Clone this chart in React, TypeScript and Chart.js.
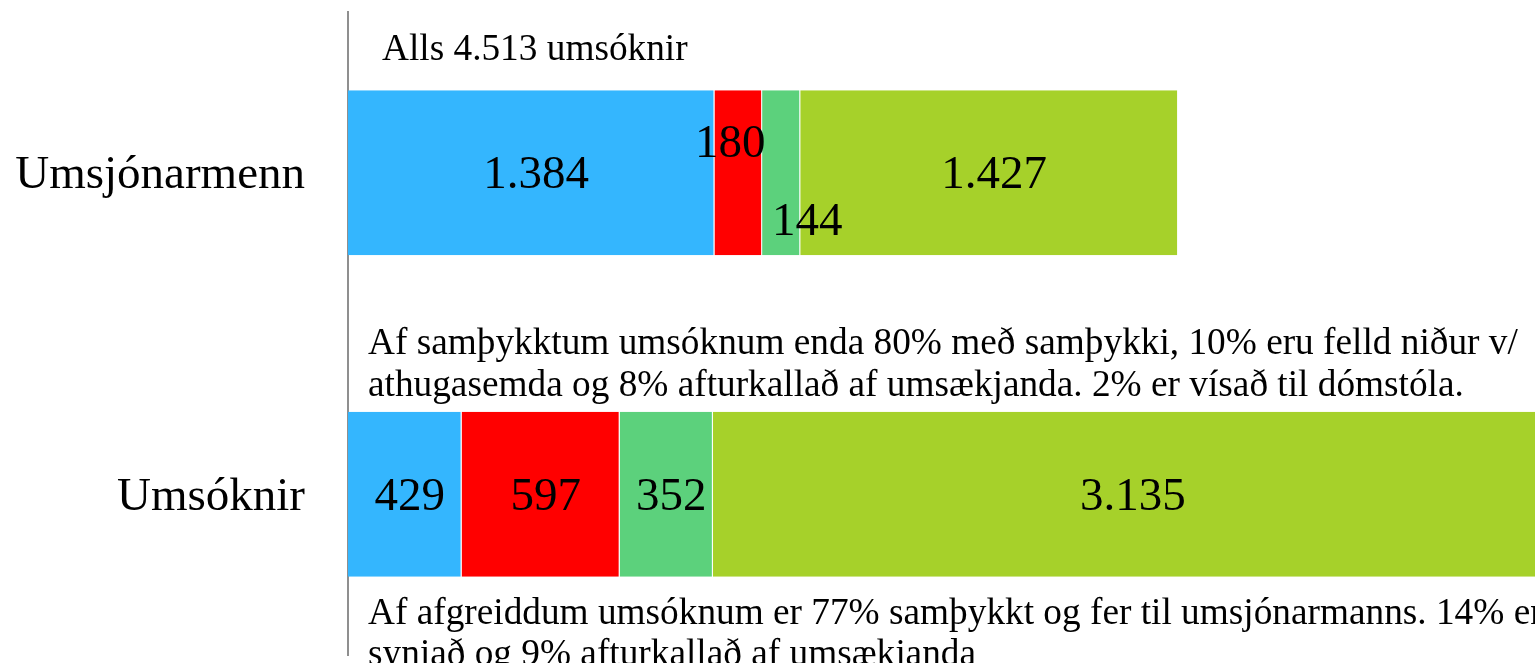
import React, { useEffect, useRef } from 'react';
import { Chart, registerables } from 'chart.js';

Chart.register(...registerables);

const categories = ['Umsjónarmenn', 'Umsóknir'];
const seriesBlue = [1384, 429];
const seriesRed = [180, 597];
const seriesGreen = [144, 352];
const seriesLime = [1427, 3135];
const seriesColors = ['#34B6FE', '#FF0000', '#5CD17C', '#A6D12A'];

const noteTop = ['Alls {total} umsóknir'];
const noteMiddle = [
  'Af samþykktum umsóknum enda 80% með samþykki, 10% eru felld niður v/',
  'athugasemda og 8% afturkallað af umsækjanda. 2% er vísað til dómstóla.',
];
const noteBottom = [
  'Af afgreiddum umsóknum er 77% samþykkt og fer til umsjónarmanns. 14% er',
  'synjað og 9% afturkallað af umsækjanda',
];

const AXIS_MAX = 4483;
const FONT = '"Liberation Serif", "Times New Roman", serif';

const fmt = (v: number) => v.toString().replace(/\B(?=(\d{3})+(?!\d))/g, '.');

// manual label nudges (dataset index - category index -> [dx, dy])
const labelNudge: Record<string, [number, number]> = {
  '1-0': [-13, -31],
  '2-0': [21, 47],
};

const labelsPlugin = {
  id: 'customLabels',
  afterDatasetsDraw(chart: any) {
    const ctx = chart.ctx;
    const area = chart.chartArea;
    const yScale = chart.scales.y;
    ctx.save();
    ctx.fillStyle = '#000';

    // category labels
    ctx.textAlign = 'right';
    ctx.textBaseline = 'middle';
    ctx.font = `47px ${FONT}`;
    categories.forEach((c, i) => {
      ctx.fillText(c, area.left - 43, yScale.getPixelForValue(i) + 3);
    });

    // value labels
    ctx.textAlign = 'center';
    chart.data.datasets.forEach((ds: any, di: number) => {
      const meta = chart.getDatasetMeta(di);
      meta.data.forEach((el: any, i: number) => {
        const c = el.getCenterPoint();
        const n = labelNudge[`${di}-${i}`] || [0, 0];
        ctx.fillText(fmt(ds.data[i]), c.x + 5 + n[0], c.y + 3 + n[1]);
      });
    });

    const m0 = chart.getDatasetMeta(0);
    const top0 = m0.data[0].y - m0.data[0].height / 2;
    const top1 = m0.data[1].y - m0.data[1].height / 2;
    const bot1 = m0.data[1].y + m0.data[1].height / 2;
    const total = seriesBlue[1] + seriesRed[1] + seriesGreen[1] + seriesLime[1];

    ctx.textAlign = 'left';
    ctx.textBaseline = 'alphabetic';
    ctx.font = `37.3px ${FONT}`;
    ctx.fillText(noteTop[0].replace('{total}', fmt(total)), area.left + 34, top0 - 30);
    ctx.fillText(noteMiddle[0], area.left + 20, top1 - 58);
    ctx.fillText(noteMiddle[1], area.left + 20, top1 - 16);
    ctx.fillText(noteBottom[0], area.left + 20, bot1 + 47);
    ctx.fillText(noteBottom[1], area.left + 20, bot1 + 88);
    ctx.restore();
  },
};

export default function App() {
  const ref = useRef<HTMLCanvasElement>(null);
  useEffect(() => {
    document.body.style.margin = '0';
    const series = [seriesBlue, seriesRed, seriesGreen, seriesLime];
    const chart = new Chart(ref.current!, {
      type: 'bar',
      data: {
        labels: categories,
        datasets: series.map((d, i) => ({
          data: d,
          backgroundColor: seriesColors[i],
          borderColor: 'rgba(255,255,255,0.45)',
          borderWidth: { top: 0, bottom: 0, left: 0, right: 1 },
          borderSkipped: false,
          barPercentage: 0.513,
          categoryPercentage: 1,
        })),
      },
      options: {
        indexAxis: 'y',
        responsive: false,
        animation: false,
        devicePixelRatio: 1,
        layout: { padding: { top: 12, bottom: 8, left: 0, right: 0 } },
        plugins: { legend: { display: false }, tooltip: { enabled: false }, title: { display: false } },
        scales: {
          x: { stacked: true, display: false, min: 0, max: AXIS_MAX },
          y: {
            stacked: true,
            grid: { display: false, drawTicks: false },
            border: { display: true, color: '#8f8f8f', width: 2 },
            ticks: { display: false },
            afterFit: (s: any) => { s.width = 348; },
          },
        },
      },
      plugins: [labelsPlugin],
    } as any);
    return () => chart.destroy();
  }, []);
  return (
    <div style={{ position: 'absolute', left: 0, top: 0, width: 1535, height: 663 }}>
      <canvas ref={ref} width={1535} height={663} />
    </div>
  );
}
